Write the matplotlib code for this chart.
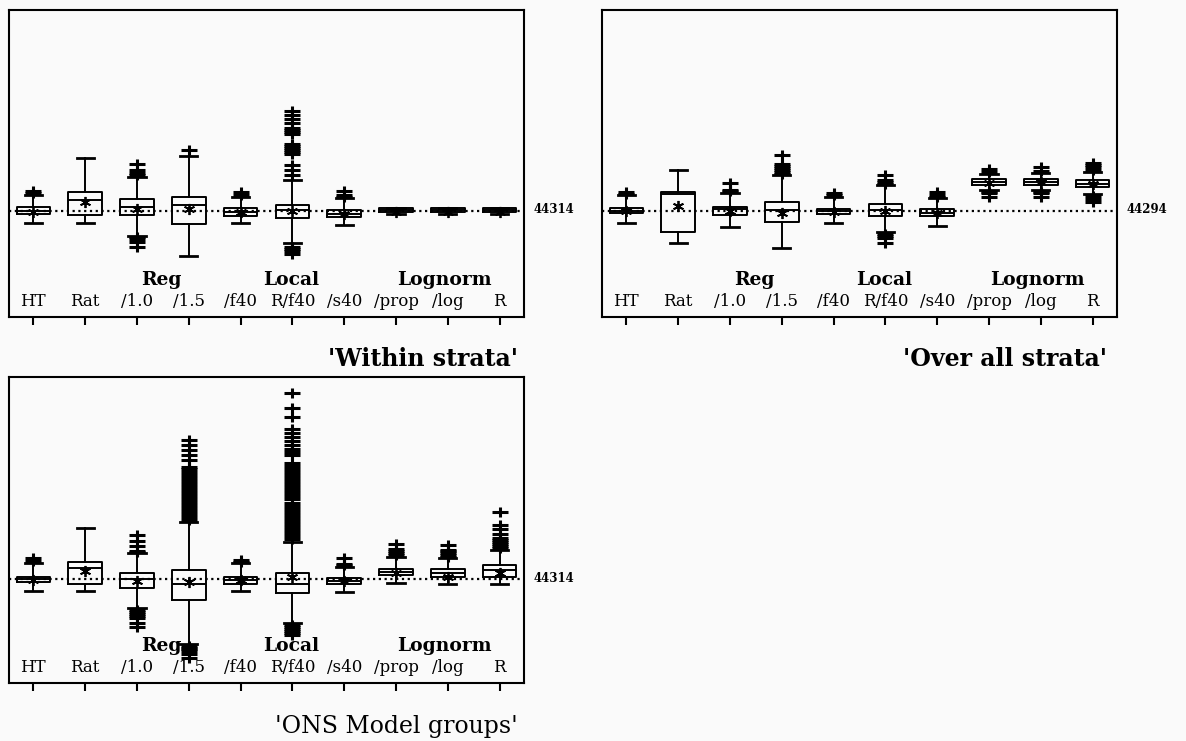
import matplotlib
matplotlib.use("Agg")
import matplotlib.pyplot as plt
from matplotlib.path import Path
from matplotlib.transforms import blended_transform_factory

plt.rcParams['font.family'] = ['DejaVu Serif']

# estimator labels on the x axis
methods = ['HT', 'Rat', '/1.0', '/1.5', '/f40', 'R/f40', '/s40', '/prop', '/log', 'R']
groups = ['Reg', 'Local', 'Lognorm']
group_pos = [3.47, 5.98, 8.93]

# box statistics, as deviations from the true total (one entry per method)
# panel 1: within strata, true total 44314
w_q1 = [-3.8, -4.5, -4.5, -13.5, -5.5, -7.8, -6.8, -1.2, -1.2, -1.2]
w_med = [0, 10.5, 3.8, 5.5, -1.8, 0.5, -3, 0.5, 0.5, 0.5]
w_q3 = [3.2, 18.2, 11.5, 13.2, 2.2, 5.5, 0.5, 2.2, 2.2, 2.2]
w_mean = [-1, 8.8, 2, 2, -1.5, 0, -3, -1, -1, -1]
w_lo = [-12.8, -12.2, -25, -45.2, -12.8, -32.2, -14.5, -3, -3, -3]
w_hi = [15.5, 52.2, 34, 54.5, 13.8, 31, 12.5, 3, 3, 3]
w_out = [
    [17.5, 19.5],
    [],
    [36, 37.5, 40.5, 47, -26.5, -28, -31, -36],
    [61],
    [15.5, 18.8],
    [35.5, 40.5, 45.5, 57, 59, 61, 63, 65, 67, 77, 79, 81, 83, 88, 92, 96, 100,
     -36, -38, -40, -43],
    [14, 15.5, 19.8],
    [], [], [],
]

# panel 2: over all strata, true total 44294
a_q1 = [-2.8, -21, -4.3, -11, -3.3, -5.3, -5.7, 25.7, 25.7, 24]
a_med = [0, 16.7, 1.5, 0.7, 0, 1, -2, 28.5, 29, 27]
a_q3 = [2.2, 19, 4, 9, 1.7, 6.7, 1.7, 31.3, 32, 30.5]
a_mean = [-0.5, 4.7, 0, -2, -1, 0, -2, 28, 28.5, 27]
a_lo = [-12, -32, -16, -37.7, -12, -21, -15, 21, 21, 17]
a_hi = [15.7, 40.7, 18, 35.5, 14, 25.7, 12.5, 37, 38, 39]
a_out = [
    [17, 19],
    [],
    [19.5, 21, 27.3],
    [37, 39, 41, 43, 45, 47, 55.7],
    [15.5, 18],
    [27, 29, 31, 35.7, -23, -25.3, -27, -32.7],
    [14, 15.5, 19],
    [39, 42, 19, 17.5, 14],
    [40, 44, 19, 17.5, 14],
    [41, 44, 45.7, 48, 15, 12, 9],
]

# panel 3: ONS model groups, true total 44314
m_q1 = [-2.7, -5, -9.3, -21, -5, -14.3, -5, 4, 2.3, 2.3]
m_med = [0, 10.7, -0.3, -5, -1, -5, -2, 6.7, 6.3, 9]
m_q3 = [2.3, 17.3, 6.3, 9, 2.3, 5.7, 0.7, 9.7, 9.7, 14]
m_mean = [-0.5, 8.3, -2, -2.7, -1, 1.7, -2, 6, 2.3, 6.3]
m_lo = [-11.7, -11.7, -28.7, -65, -11.7, -44.3, -12.7, -4.3, -5, -5]
m_hi = [16.3, 51.3, 25.7, 57.3, 15.7, 37.3, 12.5, 22, 21, 29]
m_out = [
    [18, 20.7],
    [],
    [27, 28.5, 33.3, 38.3, 44, -31, -33, -35, -37, -39.3, -43.7, -47.7],
    [59, 62, 65, 68, 71, 74, 77, 80, 83, 86, 89, 92, 95, 98, 101, 104, 107, 110,
     112, 119, 124, 129, 134, 139, -67, -68.5, -70, -72, -75, -79],
    [17.5, 19],
    [40, 43, 46, 49, 52, 55, 58, 61, 64, 67, 70, 73, 76, 80, 83, 86, 89, 92, 95,
     98, 101, 104, 107, 110, 113, 116, 124, 127, 130, 134, 138, 142, 146,
     150, 162, 171, 186, -46, -48, -50, -52, -54, -56],
    [14, 15.5, 20.7],
    [24, 26, 28, 30, 34.7],
    [22, 24, 26, 28, 29, 34],
    [31, 33, 35, 37, 39, 41, 45, 49.7, 54, 67.3],
]

W, H = 1186, 741
fig = plt.figure(figsize=(W / 100, H / 100), dpi=100)
fig.patch.set_facecolor('#fafafa')

# SAS-style outlier symbol: wide bar with a short vertical stroke
plus = Path([(-1, 0), (1, 0), (0, -0.55), (0, 0.55)],
            [Path.MOVETO, Path.LINETO, Path.MOVETO, Path.LINETO])


def panel(left, top, right, bottom, ref_px, stats, total, title, title_x, title_y,
          bold_title):
    ax = fig.add_axes([left / W, 1 - bottom / H, (right - left) / W, (bottom - top) / H])
    ax.set_facecolor('#fafafa')
    q1, med, q3, mean, lo, hi, out = stats
    bx = []
    for i in range(len(methods)):
        bx.append(dict(q1=q1[i], med=med[i], q3=q3[i], mean=mean[i],
                       whislo=lo[i], whishi=hi[i], fliers=out[i]))
    pos = list(range(1, len(methods) + 1))
    ax.bxp(bx, positions=pos, widths=0.65, capwidths=0.33, showmeans=True,
           manage_ticks=False,
           boxprops=dict(color='black', linewidth=1.4),
           whiskerprops=dict(color='black', linewidth=1.4),
           capprops=dict(color='black', linewidth=2.0),
           medianprops=dict(color='black', linewidth=1.4),
           meanprops=dict(marker=(6, 2, 0), markersize=8, markeredgecolor='black',
                          markeredgewidth=1.3, markerfacecolor='black'),
           flierprops=dict(marker=plus, markersize=12, markeredgecolor='black',
                           markeredgewidth=2.2, linestyle='none'))
    ax.axhline(0, color='black', linestyle=(0, (1, 1.6)), linewidth=1.6, zorder=1)
    ax.set_xlim(0.53, 10.47)
    ax.set_ylim(-(bottom - ref_px), ref_px - top)
    ax.set_xticks(pos)
    ax.set_yticks([])
    ax.tick_params(axis='x', direction='out', length=6, width=1.5,
                   labelbottom=False)
    for s in ax.spines.values():
        s.set_linewidth(1.5)
    tr = blended_transform_factory(ax.transData, ax.transAxes)
    for p, lab in zip(pos, methods):
        ax.text(p, 15 / (bottom - top), lab, transform=tr, ha='center',
                va='center', fontsize=12, zorder=0)
    for p, g in zip(group_pos, groups):
        ax.text(p, 37 / (bottom - top), g, transform=tr, ha='center',
                va='center', fontsize=13.5, fontweight='bold', zorder=0)
    tr2 = blended_transform_factory(ax.transAxes, ax.transData)
    ax.text(1 + 10 / (right - left), 1, str(total), transform=tr2, ha='left',
            va='center', fontsize=8.5, fontweight='bold')
    fig.text(title_x / W, 1 - title_y / H, "'" + title + "'", ha='right',
             va='center', fontsize=17,
             fontweight='bold' if bold_title else 'normal')


panel(9, 10, 524, 317, 210.7, (w_q1, w_med, w_q3, w_mean, w_lo, w_hi, w_out),
      44314, 'Within strata', 518, 359, True)
panel(602, 10, 1117, 317, 210.7, (a_q1, a_med, a_q3, a_mean, a_lo, a_hi, a_out),
      44294, 'Over all strata', 1107, 359, True)
panel(9, 377, 524, 683, 579, (m_q1, m_med, m_q3, m_mean, m_lo, m_hi, m_out),
      44314, 'ONS Model groups', 518, 727, False)

fig.savefig('out.png', dpi=100, facecolor=fig.get_facecolor())
